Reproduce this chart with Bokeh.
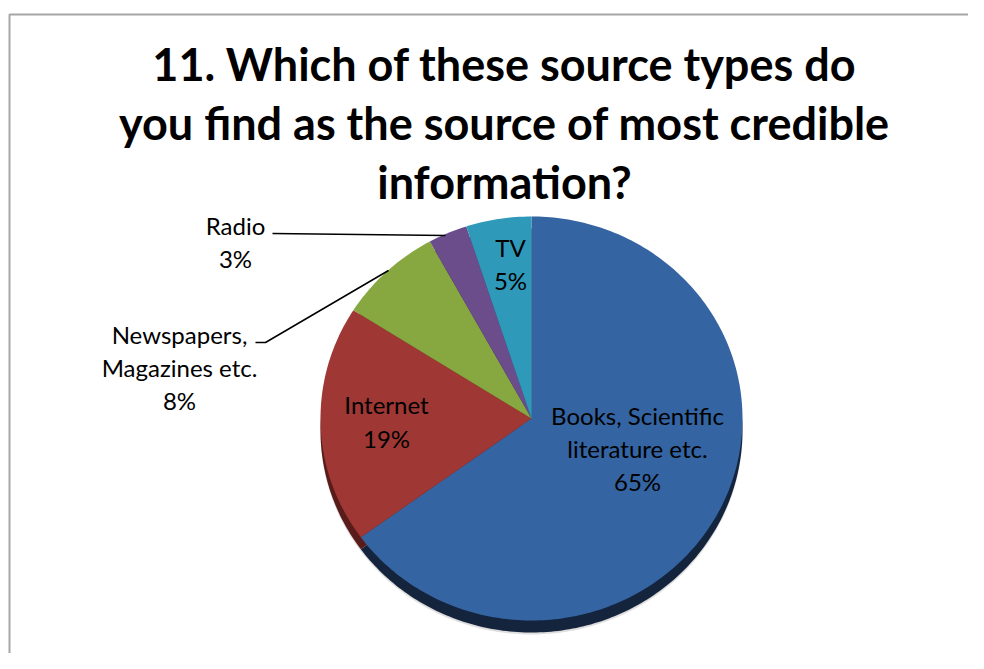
import numpy as np
from bokeh.plotting import figure
from bokeh.models import Range1d, ColumnDataSource
from bokeh.core.properties import value
from bokeh.embed import file_html
from bokeh.resources import INLINE

# ---- data ----
title_lines = ["11. Which of these source types do",
               "you find as the source of most credible",
               "information?"]
categories = ["Books, Scientific literature etc.", "Internet",
              "Newspapers, Magazines etc.", "Radio", "TV"]
shares = [65, 19, 8, 3, 5]
colors = ["#3464a2", "#9f3734", "#87a740", "#6a4d8a", "#2f99ba"]
shadow_colors = ["#15243d", "#5a1c1a", "#4a5c22", "#3a2a4c", "#1a5566"]

W, H = 968, 653
def sx(X):  # screen pixel x -> data x
    return X
def sy(Y):  # screen pixel y -> data y
    return H - Y

p = figure(width=W, height=H, output_backend="svg", toolbar_location=None,
           x_range=Range1d(0, W), y_range=Range1d(0, H), min_border=0,
           background_fill_color="white", border_fill_color="white")
p.axis.visible = False
p.grid.visible = False
p.outline_line_color = None

# outer chart frame
p.quad(left=[sx(9)], right=[W + 50], top=[sy(14)], bottom=[-50],
       fill_color=None, line_color="#a6a6a6", line_width=2)

# pie geometry (slightly tilted, so elliptical)
cx, cy, rx, ry = sx(531), sy(418), 211, 202
frac = np.array(shares, dtype=float) / sum(shares)
cum = np.concatenate([[0], np.cumsum(frac)])
start = np.pi / 2 - cum[:-1] * 2 * np.pi
end = np.pi / 2 - cum[1:] * 2 * np.pi

def slice_xy(a0, a1, dy=0.0):
    n = max(int(abs(a1 - a0) / (2 * np.pi) * 360), 4)
    t = np.linspace(a0, a1, n)
    xs = np.concatenate([[cx], cx + rx * np.cos(t), [cx]])
    ys = np.concatenate([[cy + dy], cy + dy + ry * np.sin(t), [cy + dy]])
    return list(xs), list(ys)

face = [slice_xy(a0, a1) for a0, a1 in zip(start, end)]
rim = [slice_xy(a0, a1, -12) for a0, a1 in zip(start, end)]
halo = slice_xy(np.pi / 2, np.pi / 2 - 2 * np.pi, -14)

# soft grey drop shadow
p.patch(x=halo[0], y=halo[1], fill_color="#c8c8c8", fill_alpha=0.6, line_color=None)
# dark 3D rim
p.patches(xs=[f[0] for f in rim], ys=[f[1] for f in rim],
          fill_color=shadow_colors, line_color=None)
# slices
src = ColumnDataSource(dict(xs=[f[0] for f in face], ys=[f[1] for f in face],
                            cat=categories, share=shares, color=colors))
p.patches(xs="xs", ys="ys", fill_color="color", line_color=None, source=src)

font = value("Lato")

# title
p.text(x=[sx(504)] * 3, y=[sy(63), sy(122), sy(181)], text=title_lines,
       text_font=font, text_font_size="45px", text_font_style="bold",
       text_align="center", text_baseline="middle", text_color="black")

# data labels
lab_x = [sx(637)] * 3 + [sx(386)] * 2 + [sx(179)] * 3 + [sx(235)] * 2 + [sx(510)] * 2
lab_y = [sy(415), sy(448), sy(481),
         sy(404), sy(438),
         sy(334), sy(367), sy(400),
         sy(225), sy(258),
         sy(247), sy(280)]
lab_t = ["Books, Scientific", "literature etc.", f"{shares[0]}%",
         "Internet", f"{shares[1]}%",
         "Newspapers,", "Magazines etc.", f"{shares[2]}%",
         "Radio", f"{shares[3]}%",
         "TV", f"{shares[4]}%"]
p.text(x=lab_x, y=lab_y, text=lab_t, text_font=font, text_font_size="24px",
       text_align="center", text_baseline="middle", text_color="black")

# leader lines
p.line(x=[sx(272), sx(445)], y=[sy(233), sy(235)], line_color="black", line_width=1.5)
p.line(x=[sx(255), sx(265), sx(388)], y=[sy(342), sy(342), sy(270)],
       line_color="black", line_width=1.5)

open("out.html", "w").write(file_html(p, INLINE))
